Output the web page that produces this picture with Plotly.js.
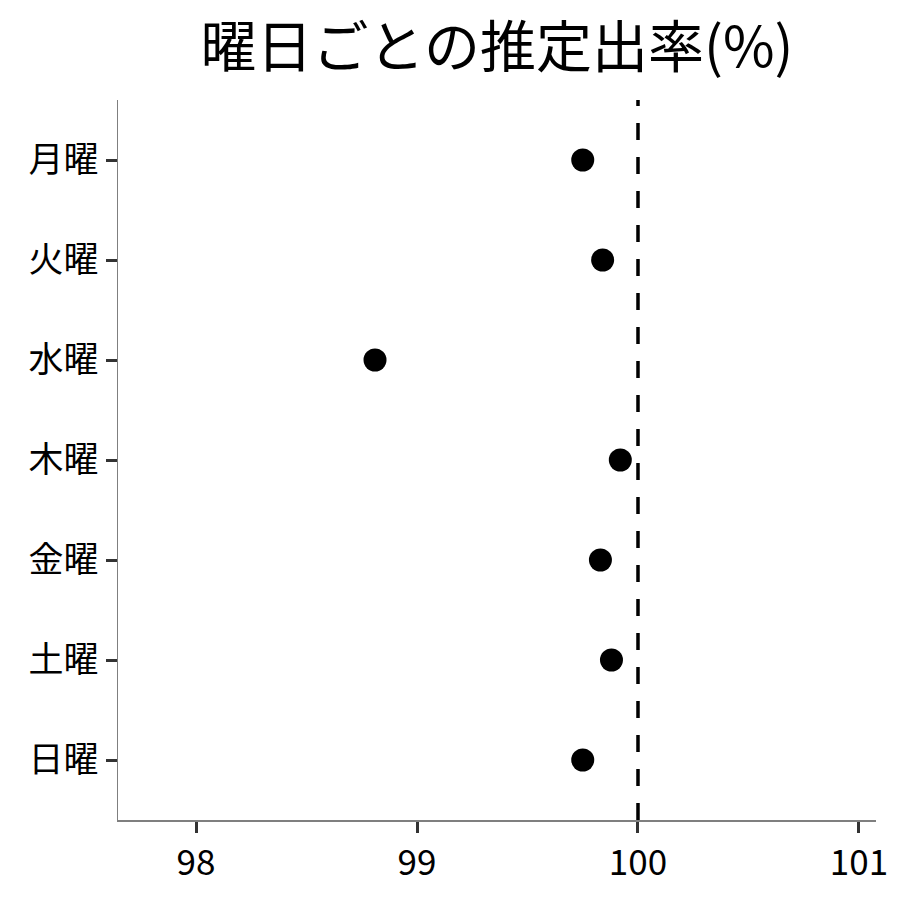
<!DOCTYPE html>
<html>
<head>
<meta charset="utf-8">
<script src="https://cdn.plot.ly/plotly-3.0.1.min.js"></script>
<style>
  html, body { margin: 0; padding: 0; background: #fff; }
  #chart { width: 900px; height: 900px; }
</style>
</head>
<body>
<div id="chart"></div>
<script>
// 曜日ごとの推定出率
const days = ['月曜', '火曜', '水曜', '木曜', '金曜', '土曜', '日曜'];
const rates = [99.75, 99.84, 98.81, 99.92, 99.83, 99.88, 99.75];
const xTicks = [98, 99, 100, 101];
const refValue = 100;

const font = '"Noto Sans CJK JP", "Noto Sans", sans-serif';

const trace = {
    x: rates,
    y: days,
    type: 'scatter',
    mode: 'markers',
    marker: { color: '#000000', size: 23 },
    hoverinfo: 'x+y'
};

const layout = {
    width: 900,
    height: 900,
    paper_bgcolor: '#ffffff',
    plot_bgcolor: '#ffffff',
    font: { family: font, color: '#000000', size: 35 },
    margin: { l: 118, r: 24, t: 100, b: 80 },
    showlegend: false,
    title: {
        text: '曜日ごとの推定出率(%)',
        font: { family: font, size: 56, color: '#000000' },
        x: 0.5,
        xref: 'paper',
        xanchor: 'center',
        yref: 'container',
        y: 0.947,
        yanchor: 'middle'
    },
    xaxis: {
        range: [97.647, 101.077],
        tickvals: xTicks,
        ticktext: xTicks.map(String),
        showgrid: false,
        zeroline: false,
        showline: true,
        linecolor: '#7f7f7f',
        linewidth: 1.5,
        ticks: 'outside',
        ticklen: 11,
        tickwidth: 3,
        tickcolor: '#333333',
        tickfont: { family: font, size: 35, color: '#000000' }
    },
    yaxis: {
        type: 'category',
        categoryorder: 'array',
        categoryarray: days,
        range: [6.6, -0.6],
        showgrid: false,
        zeroline: false,
        showline: true,
        linecolor: '#7f7f7f',
        linewidth: 1.5,
        ticks: 'outside',
        ticklen: 11,
        tickwidth: 3,
        tickcolor: '#333333',
        tickfont: { family: font, size: 35, color: '#000000' }
    },
    shapes: [{
        type: 'line',
        xref: 'x',
        yref: 'paper',
        x0: refValue,
        x1: refValue,
        y0: 0,
        y1: 1,
        line: { color: '#000000', width: 3.5, dash: '17px,17px' },
        layer: 'above'
    }]
};

Plotly.newPlot('chart', [trace], layout, { displayModeBar: false, staticPlot: true });
</script>
</body>
</html>
